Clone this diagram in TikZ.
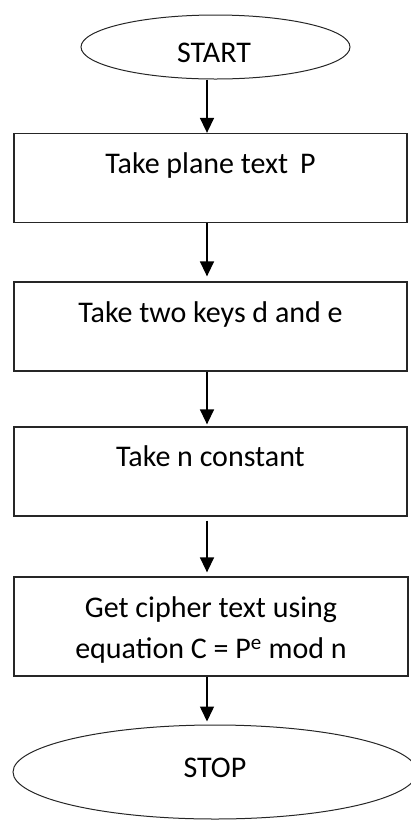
\documentclass[tikz,border=0pt]{standalone}
\usepackage{fontspec}
\setmainfont{Carlito}
\usetikzlibrary{arrows.meta,shapes.geometric}
\begin{document}
\begin{tikzpicture}[x=1pt,y=1pt,
  boxst/.style={draw=black!85,line width=1.3pt,rectangle,minimum width=393pt,minimum height=89pt,inner sep=0pt},
  ovalst/.style={draw=black!85,line width=1pt,ellipse,inner sep=0pt},
  txt/.style={anchor=base,inner sep=0pt,font=\fontsize{30}{41}\selectfont},
  arr/.style={line width=1.5pt,-{Triangle[width=14pt,length=15pt]}}]
\useasboundingbox (0,0) rectangle (410,-820);
\coordinate (ax) at (207,0);
\node[ovalst,minimum width=269pt,minimum height=64pt] (start) at (215.5,-47) {};
\node[txt] (tstart) at (214,-62) {START};
\node[boxst] (b1) at (210.5,-178) {};
\node[txt] (t1) at ([yshift=-41pt]b1.north) {Take plane text\, P};
\node[boxst] (b2) at (210.5,-326.5) {};
\node[txt] (t2) at ([yshift=-41pt]b2.north) {Take two keys d and e};
\node[boxst] (b3) at (210.5,-471.5) {};
\node[txt] (t3) at ([yshift=-40pt]b3.north) {Take n constant};
\node[boxst,minimum height=99pt,minimum width=394pt] (b4) at (211,-626.5) {};
\node[txt] (t4a) at ([yshift=-41pt]b4.north) {Get cipher text using};
\node[txt] (t4b) at ([yshift=-82pt]b4.north) {equation C = P\textsuperscript{e} mod n};
\node[ovalst,minimum width=404pt,minimum height=94pt] (stop) at (215,-772) {};
\node[txt] (tstop) at (215,-777) {STOP};
\draw[arr] (start.south -| ax) -- (b1.north -| ax);
\draw[arr,shorten >=5pt] (b1.south -| ax) -- (b2.north -| ax);
\draw[arr,shorten >=2pt] (b2.south -| ax) -- (b3.north -| ax);
\draw[arr,shorten <=4pt,shorten >=4pt] (b3.south -| ax) -- (b4.north -| ax);
\draw[arr,shorten >=3pt] (b4.south -| ax) -- (stop.north -| ax);
\end{tikzpicture}
\end{document}
